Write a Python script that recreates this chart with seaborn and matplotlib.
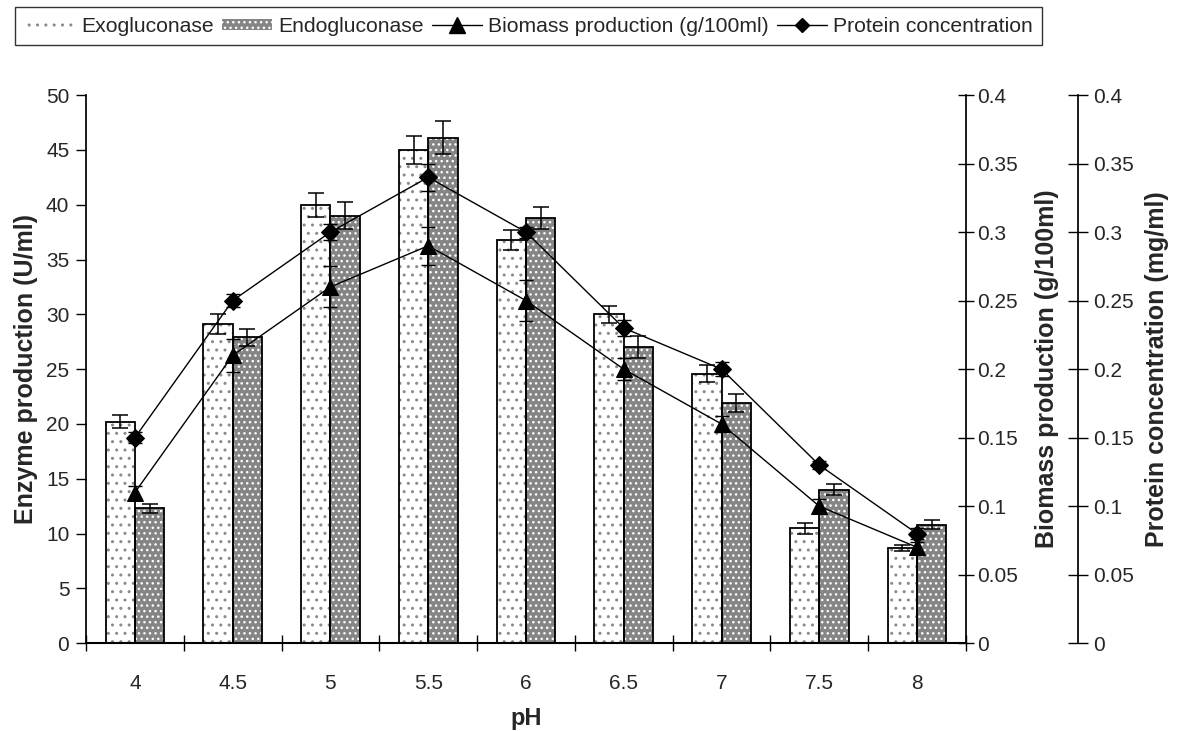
import numpy as np
import pandas as pd
import matplotlib
matplotlib.use("Agg")
import matplotlib.pyplot as plt
import seaborn as sns
from matplotlib.patches import Rectangle, Patch
from matplotlib.lines import Line2D

ph = ["4", "4.5", "5", "5.5", "6", "6.5", "7", "7.5", "8"]
exo = [20.2, 29.1, 40.0, 45.0, 36.8, 30.0, 24.6, 10.5, 8.7]
exo_err = [0.6, 0.9, 1.1, 1.3, 0.9, 0.8, 0.8, 0.5, 0.3]
endo = [12.3, 27.9, 39.0, 46.1, 38.8, 27.0, 21.9, 14.0, 10.8]
endo_err = [0.4, 0.8, 1.2, 1.5, 1.0, 1.0, 0.8, 0.5, 0.4]
biomass = [0.11, 0.21, 0.26, 0.29, 0.25, 0.20, 0.16, 0.10, 0.07]
biomass_err = [0.005, 0.012, 0.015, 0.014, 0.015, 0.008, 0.006, 0.005, 0.004]
protein = [0.15, 0.25, 0.30, 0.34, 0.30, 0.23, 0.20, 0.13, 0.08]
protein_err = [0.004, 0.005, 0.006, 0.010, 0.004, 0.006, 0.005, 0.003, 0.004]

series_names = ["Exogluconase", "Endogluconase"]
biomass_label = "Biomass production (g/100ml)"
protein_label = "Protein concentration"
right_ticks = ["0", "0.05", "0.1", "0.15", "0.2", "0.25", "0.3", "0.35", "0.4"]

sns.set_theme(style="white")
plt.rcParams["font.family"] = ["Liberation Sans", "DejaVu Sans"]
plt.rcParams["hatch.linewidth"] = 1.0

TICK_FS = 15
LABEL_FS = 18

fig = plt.figure(figsize=(11.78, 7.31), dpi=100)
ax = fig.add_axes([0.073, 0.120, 0.747, 0.750])

df = pd.DataFrame({
    "pH": ph * 2,
    "value": exo + endo,
    "enzyme": [series_names[0]] * len(ph) + [series_names[1]] * len(ph),
})
sns.barplot(data=df, x="pH", y="value", hue="enzyme", order=ph,
            hue_order=series_names, width=0.6, errorbar=None,
            palette=["white", "#858585"], legend=False, ax=ax,
            saturation=1)

n = len(ph)
bars = list(ax.patches)
exo_bars = bars[:n]
endo_bars = bars[n:2 * n]
for p in exo_bars:
    p.set_hatch("..")
    p.set_edgecolor("#8a8a8a")
    p.set_linewidth(0)
for p in endo_bars:
    p.set_hatch("...")
    p.set_edgecolor("white")
    p.set_linewidth(0)
# black outlines on top of hatched fills (geometry from seaborn's bars)
for p in exo_bars + endo_bars:
    ax.add_patch(Rectangle(p.get_xy(), p.get_width(), p.get_height(),
                           fill=False, edgecolor="black", linewidth=1.3, zorder=3))

exo_x = [p.get_x() + p.get_width() / 2 for p in exo_bars]
endo_x = [p.get_x() + p.get_width() / 2 for p in endo_bars]
ax.errorbar(exo_x, exo, yerr=exo_err, fmt="none", ecolor="black",
            elinewidth=1.1, capsize=6, capthick=1.1, zorder=4)
ax.errorbar(endo_x, endo, yerr=endo_err, fmt="none", ecolor="black",
            elinewidth=1.1, capsize=6, capthick=1.1, zorder=4)

ax.set_xlim(-0.5, n - 0.5)
ax.set_ylim(0, 50)
ax.set_yticks(np.arange(0, 51, 5))
ax.set_xticks(range(n))
ax.set_xticklabels(ph)
ax.set_xticks(np.arange(-0.5, n, 1.0), minor=True)
ax.tick_params(axis="x", which="major", length=0, pad=22, labelsize=TICK_FS)
ax.tick_params(axis="x", which="minor", length=12, width=1.0, direction="inout",
               color="black", bottom=True)
ax.tick_params(axis="y", which="major", length=7, width=1.0, direction="out",
               left=True, labelsize=TICK_FS, color="black", pad=5)
for s in ["top", "right"]:
    ax.spines[s].set_visible(False)
ax.spines["left"].set_color("black")
ax.spines["bottom"].set_color("black")
ax.spines["bottom"].set_linewidth(1.5)
ax.set_xlabel("pH", fontsize=17, fontweight="bold", labelpad=10)
ax.set_ylabel("Enzyme production (U/ml)", fontsize=LABEL_FS, fontweight="bold", labelpad=6)

x_num = np.arange(n)

ax2 = ax.twinx()
sns.lineplot(x=x_num, y=biomass, ax=ax2, color="black", linewidth=1.0,
             marker="^", markersize=11, markeredgecolor="black", zorder=5)
ax2.errorbar(x_num, biomass, yerr=biomass_err, fmt="none", ecolor="black",
             elinewidth=1.0, capsize=5, zorder=5)
ax2.set_ylim(0, 0.4)
ax2.set_yticks(np.arange(0, 0.401, 0.05))
ax2.set_yticklabels(right_ticks)
ax2.tick_params(axis="y", right=True, length=12, width=1.0, direction="inout",
                labelsize=TICK_FS, color="black", pad=2)
for s in ["top", "left", "bottom"]:
    ax2.spines[s].set_visible(False)
ax2.spines["right"].set_color("black")
ax2.set_ylabel(biomass_label, fontsize=LABEL_FS, fontweight="bold", labelpad=12)

ax3 = ax.twinx()
sns.lineplot(x=x_num, y=protein, ax=ax3, color="black", linewidth=1.0,
             marker="D", markersize=9, markeredgecolor="black", zorder=5)
ax3.errorbar(x_num, protein, yerr=protein_err, fmt="none", ecolor="black",
             elinewidth=1.0, capsize=5, zorder=5)
ax3.set_ylim(0, 0.4)
ax3.set_yticks(np.arange(0, 0.401, 0.05))
ax3.set_yticklabels(right_ticks)
ax3.spines["right"].set_position(("axes", 1.127))
ax3.tick_params(axis="y", right=True, length=14, width=1.0, direction="inout",
                labelsize=TICK_FS, color="black", pad=4)
for s in ["top", "left", "bottom"]:
    ax3.spines[s].set_visible(False)
ax3.spines["right"].set_color("black")
ax3.set_ylabel("Protein concentration (mg/ml)", fontsize=LABEL_FS, fontweight="bold", labelpad=8)

handles = [
    Patch(facecolor="white", edgecolor="#8a8a8a", hatch="..", linewidth=0),
    Patch(facecolor="#858585", edgecolor="white", hatch="...", linewidth=0),
    Line2D([], [], color="black", marker="^", markersize=11, linewidth=1.0),
    Line2D([], [], color="black", marker="D", markersize=7, linewidth=1.0),
]
labels = [series_names[0], series_names[1], biomass_label, protein_label]
leg = fig.legend(handles, labels, loc="upper left", bbox_to_anchor=(0.013, 0.99),
                 ncol=4, frameon=True, fancybox=False, fontsize=15.2,
                 handlelength=2.4, handleheight=0.4, handletextpad=0.25,
                 columnspacing=0.4, borderpad=0.45, borderaxespad=0.0,
                 edgecolor="black")
leg.get_frame().set_linewidth(1.0)

fig.savefig("out.png", dpi=100)
